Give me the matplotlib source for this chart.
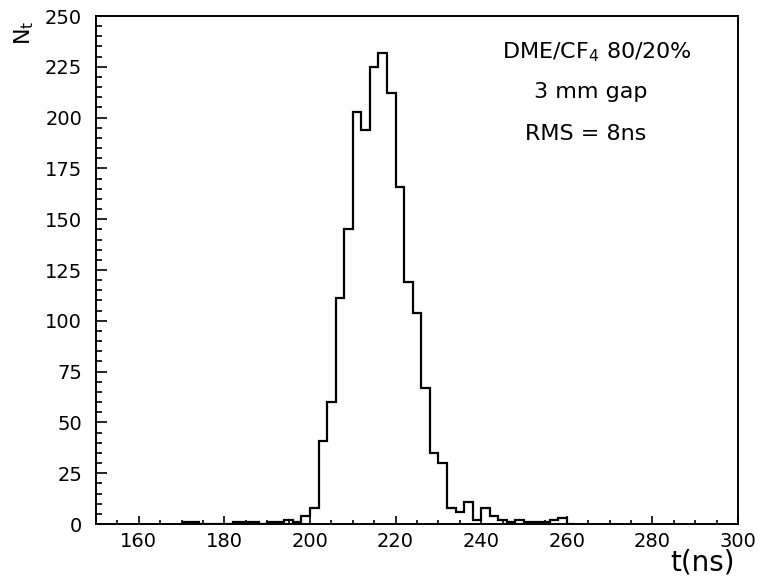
import numpy as np
import matplotlib
matplotlib.use("Agg")
import matplotlib.pyplot as plt
from matplotlib.ticker import MultipleLocator

# ---- data ----
bin_width = 2.0          # ns
first_edge = 170.0       # ns, left edge of first listed bin
counts = [1, 1, 0, 0, 0, 0, 1, 1, 1, 0, 1, 1, 2, 1, 4, 8,
          41, 60, 111, 145, 203, 194, 225, 232, 212, 166, 119, 104,
          67, 35, 30, 8, 6, 11, 2, 8, 4, 2, 1, 2, 1, 1, 1, 2, 3, 0]
x_ticks = [160, 180, 200, 220, 240, 260, 280, 300]
y_ticks = [0, 25, 50, 75, 100, 125, 150, 175, 200, 225, 250]
x_range = (150, 300)
y_range = (0, 250)
annotations = ["DME/CF$_4$ 80/20%", "3 mm gap", "RMS = 8ns"]

edges = first_edge + bin_width * np.arange(len(counts) + 1)

plt.rcParams['font.family'] = ['DejaVu Sans']
plt.rcParams['mathtext.default'] = 'regular'

fig = plt.figure(figsize=(7.61, 5.80), dpi=100)
ax = fig.add_axes([96 / 761, 56 / 580, (738 - 96) / 761, (524 - 16) / 580])

ax.stairs(counts, edges, color='black', linewidth=1.6, baseline=None)

ax.set_xlim(*x_range)
ax.set_ylim(*y_range)
ax.set_xticks(x_ticks)
ax.set_yticks(y_ticks)
ax.xaxis.set_minor_locator(MultipleLocator(5))
ax.yaxis.set_minor_locator(MultipleLocator(5))
ax.tick_params(axis='both', which='both', direction='in', width=1.2,
               labelsize=14, top=False, right=False)
ax.tick_params(axis='x', which='major', length=6, pad=6)
ax.tick_params(axis='x', which='minor', length=3)
ax.tick_params(axis='y', which='major', length=8, pad=10)
ax.tick_params(axis='y', which='minor', length=4)
for s in ax.spines.values():
    s.set_linewidth(1.4)

# annotations
ann_pos = [(597, 52), (591, 92), (586, 134)]
for txt, (px, py) in zip(annotations, ann_pos):
    fig.text(px / 761, 1 - py / 580, txt, ha='center', va='center', fontsize=16)

fig.text(735 / 761, 1 - 563 / 580, "t(ns)", ha='right', va='center', fontsize=20)
fig.text(24 / 761, 1 - 33 / 580, "$N_t$", ha='center', va='center',
         fontsize=16, rotation=90)

fig.savefig("out.png", dpi=100)
